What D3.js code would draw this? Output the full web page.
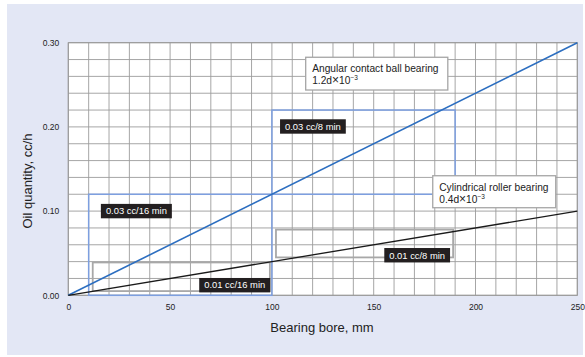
<!DOCTYPE html>
<html><head><meta charset="utf-8">
<script src="https://cdn.jsdelivr.net/npm/d3@7"></script>
<style>
body{margin:0;background:#fff;}
svg{display:block;font-family:"Liberation Sans",Arial,Helvetica,sans-serif;}
</style></head>
<body><svg id="c" width="585" height="357"></svg>
<script>
// ---- data ----
const bore = [0, 250];                       // mm
const ballOil = [0, 0.30];                   // 1.2d×10^-3 cc/h
const rollerOil = [0, 0.10];                 // 0.4d×10^-3 cc/h
const xTickLabels = [0, 50, 100, 150, 200, 250];
const yTickLabels = [0, 0.10, 0.20, 0.30];
// oil ranges (mm range, cc/h range)
const blueRanges = [[10, 100, 0, 0.12], [100, 190, 0.12, 0.22]];
const grayRanges = [[12, 99, 0.005, 0.039], [102, 189, 0.045, 0.078]];
const rateLabels = ["0.03 cc/16 min", "0.03 cc/8 min", "0.01 cc/16 min", "0.01 cc/8 min"];
const rateAnchors = [[16, 0.1], [104, 0.2005], [64.3, 0.012], [155.2, 0.0476]]; // left mm, center cc/h
const noteTitles = ["Angular contact ball bearing", "Cylindrical roller bearing"];
const noteCoefs = ["1.2d", "0.4d"];
const noteBoxes = [[116.6, 186.4, 0.2827, 0.2438], [179, 239.4, 0.142, 0.104]];

// ---- layout ----
const svg = d3.select("#c");
const L = 68.3, R = 577.3, T = 42.7, B = 295.3;
const x = d3.scaleLinear().domain([0, 250]).range([L, R]);
const y = d3.scaleLinear().domain([0, 0.30]).range([B, T]);

svg.append("rect").attr("x", 7).attr("y", 4).attr("width", 576).attr("height", 351).attr("fill", "#e3e7f5");
svg.append("rect").attr("x", L).attr("y", T).attr("width", R - L).attr("height", B - T).attr("fill", "#fff");

// grid
const g = svg.append("g");
g.selectAll("line.v").data(d3.range(0, 251, 10)).join("line")
  .attr("x1", d => x(d)).attr("x2", d => x(d)).attr("y1", T).attr("y2", B)
  .attr("stroke", "#9c9c9c").attr("stroke-width", 0.9);
g.selectAll("line.h").data(d3.range(0, 16).map(i => i * 0.02)).join("line")
  .attr("y1", d => y(d)).attr("y2", d => y(d)).attr("x1", L).attr("x2", R)
  .attr("stroke", "#9c9c9c").attr("stroke-width", 0.9);
svg.append("rect").attr("x", L).attr("y", T).attr("width", R - L).attr("height", B - T)
  .attr("fill", "none").attr("stroke", "#999").attr("stroke-width", 1);

// axes
const xa = svg.append("g").attr("transform", `translate(0,${B})`)
  .call(d3.axisBottom(x).tickValues(xTickLabels).tickSize(0).tickPadding(9).tickFormat(d3.format("d")));
const ya = svg.append("g").attr("transform", `translate(${L},0)`)
  .call(d3.axisLeft(y).tickValues(yTickLabels).tickSize(0).tickPadding(9).tickFormat(d3.format(".2f")));
[xa, ya].forEach(a => {
  a.select(".domain").remove();
  a.selectAll("text").attr("font-size", 8.5).attr("fill", "#222").attr("font-family", "Liberation Sans, Arial, sans-serif");
});

svg.append("text").attr("x", 322).attr("y", 332).attr("text-anchor", "middle")
  .attr("font-size", 13).attr("fill", "#222").text("Bearing bore, mm");
svg.append("text").attr("transform", "translate(32,181) rotate(-90)").attr("text-anchor", "middle")
  .attr("font-size", 13).attr("fill", "#222").text("Oil quantity, cc/h");

// range rectangles
svg.selectAll("rect.blue").data(blueRanges).join("rect")
  .attr("x", d => x(d[0])).attr("width", d => x(d[1]) - x(d[0]))
  .attr("y", d => y(d[3])).attr("height", d => y(d[2]) - y(d[3]))
  .attr("fill", "none").attr("stroke", "#7d9fe0").attr("stroke-width", 1.5);
svg.selectAll("rect.gray").data(grayRanges).join("rect")
  .attr("x", d => x(d[0])).attr("width", d => x(d[1]) - x(d[0]))
  .attr("y", d => y(d[3])).attr("height", d => y(d[2]) - y(d[3]))
  .attr("fill", "none").attr("stroke", "#a8a8a8").attr("stroke-width", 1.8);

// lines
const line = d3.line();
svg.append("path").attr("d", line(bore.map((d, i) => [x(d), y(ballOil[i])])))
  .attr("fill", "none").attr("stroke", "#2c6ec0").attr("stroke-width", 1.6);
svg.append("path").attr("d", line(bore.map((d, i) => [x(d), y(rollerOil[i])])))
  .attr("fill", "none").attr("stroke", "#1a1a1a").attr("stroke-width", 1.3);

// rate labels
rateLabels.forEach((t, i) => {
  const gg = svg.append("g");
  const tx = gg.append("text").attr("x", x(rateAnchors[i][0]) + 5).attr("y", y(rateAnchors[i][1]) + 3.3)
    .attr("font-size", 9.4).attr("fill", "#fff").text(t);
  const w = tx.node().getComputedTextLength();
  gg.insert("rect", "text").attr("x", x(rateAnchors[i][0])).attr("y", y(rateAnchors[i][1]) - 7.2)
    .attr("width", w + 10).attr("height", 14.4).attr("fill", "#231f20");
});

// note boxes
noteTitles.forEach((t, i) => {
  const b = noteBoxes[i];
  svg.append("rect").attr("x", x(b[0])).attr("y", y(b[2])).attr("width", x(b[1]) - x(b[0]))
    .attr("height", y(b[3]) - y(b[2])).attr("fill", "#fff").attr("stroke", "#a5a5a5").attr("stroke-width", 1.3);
  svg.append("text").attr("x", x(b[0]) + 6.5).attr("y", y(b[2]) + 15.2)
    .attr("font-size", 10.2).attr("fill", "#222").text(t);
  const f = svg.append("text").attr("x", x(b[0]) + 6.5).attr("y", y(b[2]) + 27.2)
    .attr("font-size", 10.2).attr("fill", "#222").text(noteCoefs[i]);
  f.append("tspan").attr("font-size", 12).attr("font-weight", 300).text("×");
  f.append("tspan").attr("font-size", 10.2).text("10");
  f.append("tspan").attr("font-size", 6.5).attr("dy", -4).text("−3");
});
</script></body></html>
